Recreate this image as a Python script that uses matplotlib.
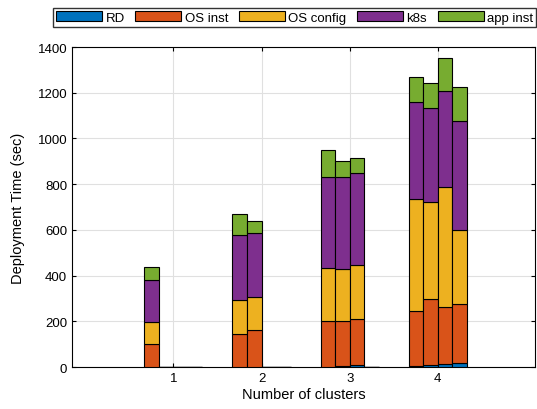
import numpy as np
import matplotlib
matplotlib.use("Agg")
import matplotlib.pyplot as plt

plt.rcParams['font.family'] = ['Liberation Sans', 'DejaVu Sans']

clusters = [1, 2, 3, 4]
components = ["RD", "OS inst", "OS config", "k8s", "app inst"]
colors = ["#0072BD", "#D95319", "#EDB120", "#7E2F8E", "#77AC30"]

# 每组 4 根柱子（第 n 组只有 n 根非零）
rd = [[2, 0, 0, 0], [2, 2, 0, 0], [2, 3, 8, 0], [3, 7, 12, 16]]
os_inst = [[98, 0, 0, 0], [142, 158, 0, 0], [198, 200, 201, 0], [241, 289, 249, 261]]
os_config = [[95, 0, 0, 0], [149, 145, 0, 0], [232, 224, 237, 0], [490, 427, 525, 324]]
k8s = [[184, 0, 0, 0], [286, 280, 0, 0], [398, 406, 403, 0], [425, 408, 420, 477]]
app_inst = [[60, 0, 0, 0], [90, 52, 0, 0], [118, 67, 64, 0], [108, 110, 144, 146]]

series = [rd, os_inst, os_config, k8s, app_inst]

fig = plt.figure(figsize=(5.37, 4.10), dpi=100)
ax = fig.add_axes([0.134, 0.1024, 0.862, 0.7805])

n_bars = 4
width = 0.165
x = np.array(clusters, dtype=float)
for j in range(n_bars):
    pos = x + (j - (n_bars - 1) / 2) * width
    bottom = np.zeros(len(clusters))
    for vals, name, c in zip(series, components, colors):
        h = np.array([v[j] for v in vals], dtype=float)
        ax.bar(pos, h, width, bottom=bottom, color=c, edgecolor="black",
               linewidth=0.8, label=name if j == 0 else None, zorder=3)
        bottom += h

ax.set_xlim(-0.15, 5.1)
ax.set_ylim(0, 1400)
ax.set_xticks(clusters)
ax.set_yticks(range(0, 1401, 200))
ax.tick_params(direction="in", top=True, right=True, labelsize=9.5, length=3)
ax.grid(color="#e0e0e0", linewidth=0.8, zorder=0)
for s in ax.spines.values():
    s.set_linewidth(0.8)
ax.set_xlabel("Number of clusters", fontsize=10.5, labelpad=2)
ax.set_ylabel("Deployment Time (sec)", fontsize=10.5, labelpad=9)

fig.legend(loc="upper left", bbox_to_anchor=(46 / 537, 0.995), ncol=5,
           fontsize=9.5, frameon=True, fancybox=False, edgecolor="black",
           handlelength=3.5, handleheight=0.8, columnspacing=0.8,
           handletextpad=0.25, borderpad=0.25)

plt.savefig("out.png", dpi=100)
plt.close()
